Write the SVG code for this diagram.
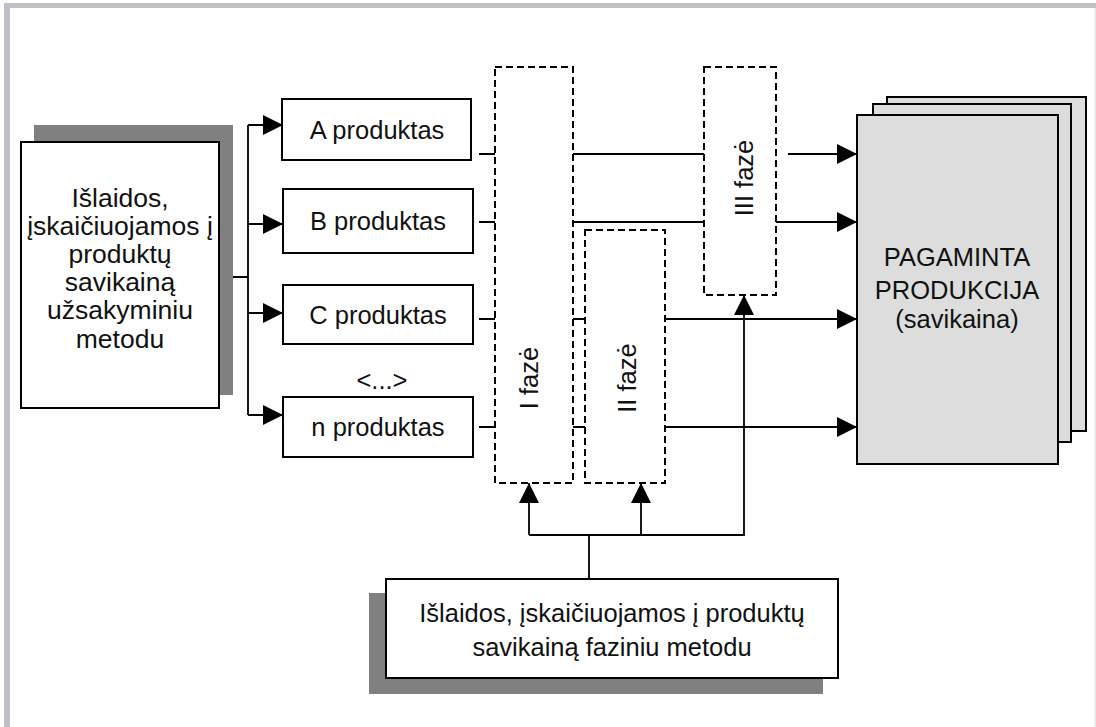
<svg xmlns="http://www.w3.org/2000/svg" width="1096" height="727" viewBox="0 0 1096 727">
<style>
.box{fill:#fff;stroke:#000;stroke-width:2}
.shadow{fill:#808080;stroke:none}
.dash{fill:#fff;stroke:#000;stroke-width:2;stroke-dasharray:7 4}
.page{fill:#dddddd;stroke:#000;stroke-width:2}
.ln{fill:none;stroke:#000;stroke-width:1.8}
.t{font-family:"Liberation Sans",Arial,sans-serif;font-size:25.5px;fill:#111;text-anchor:middle}
.tl{font-size:26.5px}
</style>
<defs>
<marker id="ahB" viewBox="0 0 10 10" refX="10" refY="5" markerWidth="20" markerHeight="20" markerUnits="userSpaceOnUse" orient="auto">
<path d="M0,0 L10,5 L0,10 z" fill="#000"/>
</marker>
</defs>
<rect x="0" y="0" width="1096" height="727" fill="#fff"/>
<g id="frame">
<rect x="4" y="3" width="1092" height="5" fill="#c0c0c4"/>
<rect x="4" y="3" width="6" height="724" fill="#c0c0c4"/>
<rect x="1094" y="8" width="2" height="719" fill="#ececec"/>
</g>
<g id="connectors">
<path class="ln" d="M219,277 H248 M248,125 V415"/>
<path class="ln" d="M248,125 H283" marker-end="url(#ahB)"/>
<path class="ln" d="M248,224 H283" marker-end="url(#ahB)"/>
<path class="ln" d="M248,313 H283" marker-end="url(#ahB)"/>
<path class="ln" d="M248,415 H283" marker-end="url(#ahB)"/>
<path class="ln" d="M479,154 H495 M479,222 H495 M479,319 H495 M479,427 H495"/>
<path class="ln" d="M573,154 H704 M573,222 H704 M573,319 H585 M573,427 H585"/>
<path class="ln" d="M788,154 H857" marker-end="url(#ahB)"/>
<path class="ln" d="M776,222 H857" marker-end="url(#ahB)"/>
<path class="ln" d="M665,319 H857" marker-end="url(#ahB)"/>
<path class="ln" d="M665,427 H857" marker-end="url(#ahB)"/>
<path class="ln" d="M589,579 V535 M529,535 H743"/>
<path class="ln" d="M529,535 V483" marker-end="url(#ahB)"/>
<path class="ln" d="M641,535 V483" marker-end="url(#ahB)"/>
<path class="ln" d="M744,536 V295" marker-end="url(#ahB)"/>
</g>
<g id="left-source">
<rect class="shadow" x="34" y="125" width="199" height="270"/>
<rect class="box" x="21" y="142" width="198" height="266"/>
<text class="t tl" x="120" y="207">Išlaidos,</text>
<text class="t tl" x="120" y="235">įskaičiuojamos į</text>
<text class="t tl" x="120" y="263">produktų</text>
<text class="t tl" x="120" y="291">savikainą</text>
<text class="t tl" x="120" y="319">užsakyminiu</text>
<text class="t tl" x="120" y="348">metodu</text>
</g>
<g id="product-a">
<rect class="box" x="282" y="99" width="189" height="61"/>
<text class="t" x="377" y="139">A produktas</text>
</g>
<g id="product-b">
<rect class="box" x="283" y="189" width="190" height="64"/>
<text class="t" x="378" y="230">B produktas</text>
</g>
<g id="product-c">
<rect class="box" x="283" y="285" width="190" height="59"/>
<text class="t" x="378" y="324">C produktas</text>
</g>
<g id="ellipsis">
<text class="t" x="382" y="389">&lt;...&gt;</text>
</g>
<g id="product-n">
<rect class="box" x="283" y="397" width="190" height="60"/>
<text class="t" x="378" y="436">n produktas</text>
</g>
<g id="phase-1">
<rect class="dash" x="495" y="67" width="78" height="416"/>
<text class="t" transform="translate(538,378) rotate(-90)">I fazė</text>
</g>
<g id="phase-2">
<rect class="dash" x="585" y="230" width="80" height="253"/>
<text class="t" transform="translate(636,378) rotate(-90)">II fazė</text>
</g>
<g id="phase-3">
<rect class="dash" x="704" y="67" width="72" height="228"/>
<text class="t" transform="translate(753,178) rotate(-90)">III fazė</text>
</g>
<g id="output">
<rect class="page" x="887" y="97" width="199" height="334"/>
<rect class="page" x="873" y="104" width="198" height="338"/>
<rect class="page" x="857" y="115" width="201" height="349"/>
<text class="t" x="957" y="266">PAGAMINTA</text>
<text class="t" x="957" y="299">PRODUKCIJA</text>
<text class="t" x="957" y="328">(savikaina)</text>
</g>
<g id="bottom-source">
<rect class="shadow" x="369" y="593" width="454" height="101"/>
<rect class="box" x="386" y="579" width="452" height="99"/>
<text class="t" x="612" y="622">Išlaidos, įskaičiuojamos į produktų</text>
<text class="t" x="612" y="656">savikainą faziniu metodu</text>
</g>
</svg>
